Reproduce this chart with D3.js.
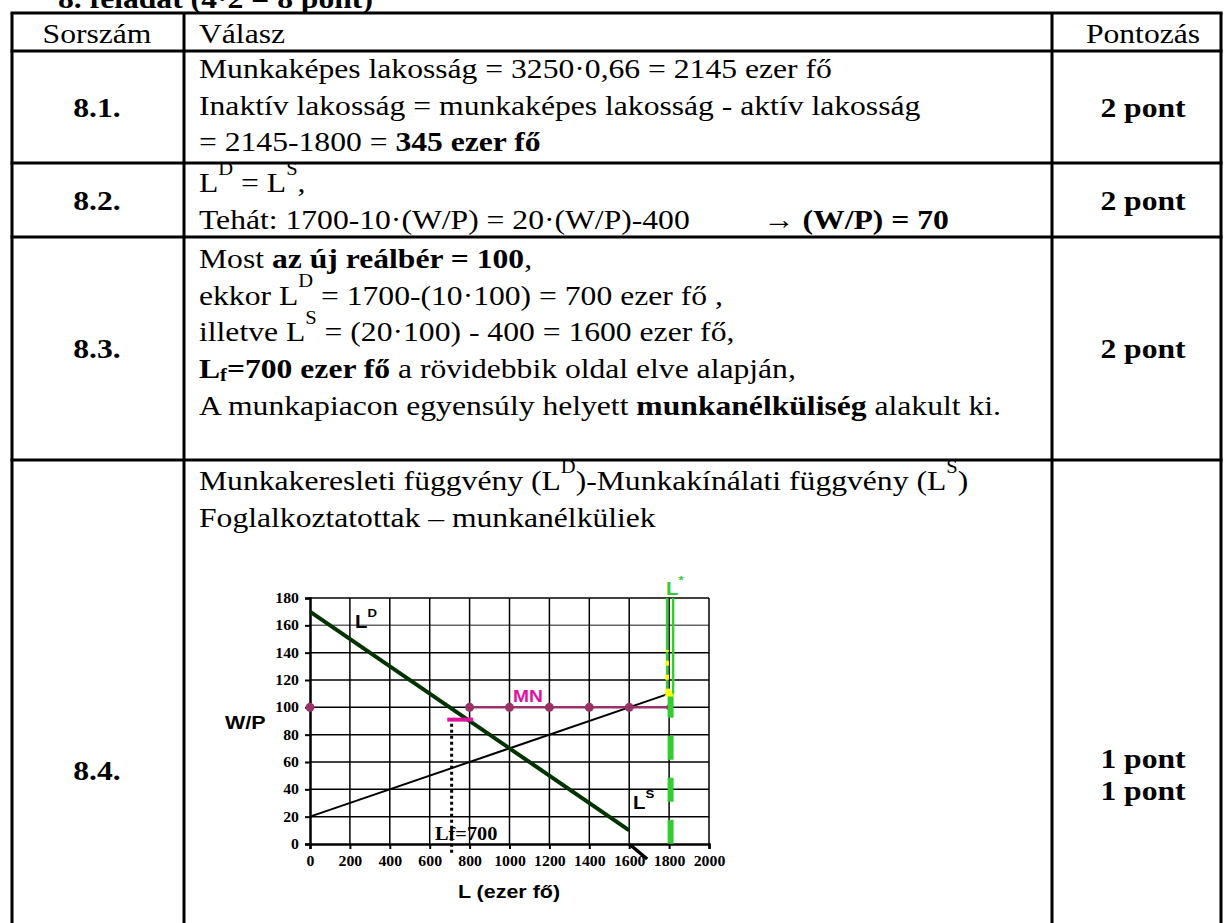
<!DOCTYPE html>
<html>
<head>
<meta charset="utf-8">
<script src="https://cdn.jsdelivr.net/npm/d3@7"></script>
<style>
  body { margin: 0; background: #fff; }
  text { white-space: pre; }
</style>
</head>
<body>
<div class="canvas"></div>
<script>
// TABLE CONTENT
const title = '8. feladat (4·2 = 8 pont)';
const headers = ['Sorszám', 'Válasz', 'Pontozás'];
const rowIds = ['8.1.', '8.2.', '8.3.', '8.4.'];
const rowPoints = [['2 pont'], ['2 pont'], ['2 pont'], ['1 pont', '1 pont']];

// ANSWER LINES (b = bold, sup / sub = raised / lowered)
const answers = [
  [
    ['Munkaképes lakosság = 3250·0,66 = 2145 ezer fő'],
    ['Inaktív lakosság = munkaképes lakosság - aktív lakosság'],
    ['= 2145-1800 = ', { t: '345 ezer fő', b: true }]
  ],
  [
    ['L', { t: 'D', sup: true }, ' = L', { t: 'S', sup: true }, ','],
    ['Tehát: 1700-10·(W/P) = 20·(W/P)-400']
  ],
  [
    ['Most ', { t: 'az új reálbér = 100', b: true }, ','],
    ['ekkor L', { t: 'D', sup: true }, ' = 1700-(10·100) = 700 ezer fő ,'],
    ['illetve L', { t: 'S', sup: true }, ' = (20·100) - 400 = 1600 ezer fő,'],
    [{ t: 'L', b: true }, { t: 'f', b: true, sub: true }, { t: '=700 ezer fő', b: true }, ' a rövidebbik oldal elve alapján,'],
    ['A munkapiacon egyensúly helyett ', { t: 'munkanélküliség', b: true }, ' alakult ki.']
  ],
  [
    ['Munkakeresleti függvény (L', { t: 'D', sup: true }, ')-Munkakínálati függvény (L', { t: 'S', sup: true }, ')'],
    ['Foglalkoztatottak – munkanélküliek']
  ]
];
const arrowPart = ['→ ', { t: '(W/P) = 70', b: true }];

// CHART DATA
const lTicks = [0, 200, 400, 600, 800, 1000, 1200, 1400, 1600, 1800, 2000];
const wpTicks = [0, 20, 40, 60, 80, 100, 120, 140, 160, 180];
const demandL = [0, 1600];
const demandWP = [170, 10];
const supplyL = [0, 1800];
const supplyWP = [20, 110];
const mnL = [0, 800, 1000, 1200, 1400, 1600, 1800];
const mnWP = [100, 100, 100, 100, 100, 100, 100];
const wageBarL = [688, 818];
const wageBarWP = [91, 91];
const lfL = [710, 710];
const lfWP = [88, -7];
const kinkL = [1600, 1690];
const kinkWP = [0, -11];
const lStar = 1800;
const lStarUpperWP = [110, 180];
const lStarLowerWP = [0, 110];
const lStarYellowWP = [110, 142];

const SX = 1.13;
const serif = 'Liberation Serif, Times New Roman, serif';
const sans = 'Liberation Sans, Arial, sans-serif';

const svg = d3
  .select('.canvas')
  .append('svg')
  .attr('width', 1224)
  .attr('height', 923);

// TEXT HELPER - HORIZONTALLY STRETCHED LIKE THE SCAN
const addText = (parent, x, y, parts, o = {}) => {
  const size = o.size || 28;
  const t = parent
    .append('text')
    .attr('transform', `translate(${x},${y}) scale(${SX},1)`)
    .attr('font-family', o.font || serif)
    .attr('font-size', size)
    .attr('text-anchor', o.anchor || 'start')
    .attr('fill', o.color || '#000')
    .attr('font-weight', o.bold ? 'bold' : 'normal');
  let shift = 0;
  parts.forEach((p) => {
    if (typeof p === 'string') p = { t: p };
    const s = t.append('tspan').text(p.t);
    let target = 0;
    if (p.b) s.attr('font-weight', 'bold');
    if (p.sup) {
      s.attr('font-size', size * 0.65);
      target = -size * 0.62;
    }
    if (p.sub) {
      s.attr('font-size', size * 0.65);
      target = size * 0.1;
    }
    if (target !== shift) s.attr('dy', target - shift);
    shift = target;
  });
  return t;
};

// TABLE GRID
const rowY = [13, 51, 163, 237, 460];
const colX = [12, 184, 1052, 1221];
const grid = svg.append('g').attr('stroke', '#000').attr('stroke-width', 3);

rowY.forEach((y) => {
  grid.append('line').attr('x1', colX[0] - 1.5).attr('x2', colX[3] + 1.5).attr('y1', y).attr('y2', y);
});
colX.forEach((x) => {
  grid.append('line').attr('x1', x).attr('x2', x).attr('y1', rowY[0]).attr('y2', 923);
});

// TITLE (CUT OFF AT TOP)
addText(svg, 58, 8, [title], { bold: true });

// HEADER
addText(svg, 97, 43, [headers[0]], { anchor: 'middle' });
addText(svg, 199, 43, [headers[1]]);
addText(svg, 1143, 43, [headers[2]], { anchor: 'middle' });

// ROWS
const firstBase = [78, 192, 268, 490];
const rowMid = [117, 210, 358, 780];
const lineGap = 36.7;

rowIds.forEach((id, i) => {
  addText(svg, 97, rowMid[i], [id], { anchor: 'middle', bold: true });
  const pts = rowPoints[i];
  pts.forEach((p, j) => {
    const y = rowMid[i] + 4 * (pts.length - 1) + (j - (pts.length - 1) / 2) * 32;
    addText(svg, 1143, y, [p], { anchor: 'middle', bold: true });
  });
  answers[i].forEach((line, j) => {
    addText(svg, 199, firstBase[i] + j * lineGap, line);
  });
});
addText(svg, 763, firstBase[1] + lineGap, arrowPart);

// CHART
const x = d3.scaleLinear().domain([0, 2000]).range([310, 709]);
const y = d3.scaleLinear().domain([0, 180]).range([844, 598]);
const chart = svg.append('g');

// GRIDLINES
chart
  .selectAll('.hgrid')
  .data(wpTicks.slice(1))
  .enter()
  .append('line')
  .attr('x1', x(0))
  .attr('x2', x(2000))
  .attr('y1', (d) => y(d))
  .attr('y2', (d) => y(d))
  .attr('stroke', (d) => (d === 160 ? '#666' : '#000'))
  .attr('stroke-width', 1.5);

chart
  .selectAll('.vgrid')
  .data(lTicks.slice(1))
  .enter()
  .append('line')
  .attr('x1', (d) => x(d))
  .attr('x2', (d) => x(d))
  .attr('y1', y(0))
  .attr('y2', y(180))
  .attr('stroke', '#000')
  .attr('stroke-width', 1.5);

// AXES
const yAxis = d3.axisLeft(y).tickValues(wpTicks).tickFormat(d3.format('d')).tickSize(5).tickPadding(6);
const xAxis = d3.axisBottom(x).tickValues(lTicks).tickFormat(d3.format('d')).tickSize(5).tickPadding(6);

const yG = chart.append('g').attr('transform', `translate(${x(0)},0)`).call(yAxis);
const xG = chart.append('g').attr('transform', `translate(0,${y(0)})`).call(xAxis);

[yG, xG].forEach((g) => {
  g.select('.domain').attr('stroke-width', 2.5).attr('stroke', '#000');
  g.selectAll('.tick line').attr('stroke-width', 2).attr('stroke', '#000');
  g.selectAll('.tick text')
    .attr('font-family', serif)
    .attr('font-weight', 'bold')
    .attr('font-size', 14)
    .attr('fill', '#000');
});
yG.selectAll('.tick text').attr('transform', `translate(-2,0) scale(${SX},1)`).attr('x', -8);
xG.selectAll('.tick text').attr('transform', `scale(${SX},1)`).attr('dy', '0.8em');

const line = d3
  .line()
  .x((d) => x(d[0]))
  .y((d) => y(d[1]));

// LABOUR SUPPLY
chart
  .append('path')
  .attr('d', line(d3.zip(supplyL, supplyWP)))
  .attr('stroke', '#000')
  .attr('stroke-width', 2)
  .attr('fill', 'none');

// MN (REAL WAGE 100)
chart
  .append('path')
  .attr('d', line(d3.zip(mnL.slice(1), mnWP.slice(1))))
  .attr('stroke', '#993366')
  .attr('stroke-width', 2.5)
  .attr('fill', 'none');

chart
  .selectAll('.mn')
  .data(d3.zip(mnL, mnWP))
  .enter()
  .append('circle')
  .attr('cx', (d) => x(d[0]))
  .attr('cy', (d) => y(d[1]))
  .attr('r', (d, i) => (i === mnL.length - 1 ? 3 : 4.5))
  .attr('fill', '#993366');

// LABOUR DEMAND
chart
  .append('path')
  .attr('d', line(d3.zip(demandL, demandWP)))
  .attr('stroke', '#003300')
  .attr('stroke-width', 4)
  .attr('fill', 'none');

chart
  .append('path')
  .attr('d', line(d3.zip(kinkL, kinkWP)))
  .attr('stroke', '#000')
  .attr('stroke-width', 3.5)
  .attr('fill', 'none');

// WAGE BAR AND Lf DOTTED
chart
  .append('path')
  .attr('d', line(d3.zip(wageBarL, wageBarWP)))
  .attr('stroke', '#e0119d')
  .attr('stroke-width', 4)
  .attr('fill', 'none');

chart
  .append('path')
  .attr('d', line(d3.zip(lfL, lfWP)))
  .attr('stroke', '#000')
  .attr('stroke-width', 3)
  .attr('stroke-dasharray', '3,3')
  .attr('fill', 'none');

// L* FULL EMPLOYMENT
[-2, 4].forEach((off) => {
  chart
    .append('line')
    .attr('x1', x(lStar) + off)
    .attr('x2', x(lStar) + off)
    .attr('y1', y(lStarUpperWP[0]))
    .attr('y2', y(lStarUpperWP[1]))
    .attr('stroke', '#33cc33')
    .attr('stroke-width', 2.5);
});

chart
  .append('line')
  .attr('x1', x(lStar) - 2)
  .attr('x2', x(lStar) - 2)
  .attr('y1', y(lStarYellowWP[0]))
  .attr('y2', y(lStarYellowWP[1]))
  .attr('stroke', '#ffff00')
  .attr('stroke-width', 3.5)
  .attr('stroke-dasharray', '5,9');

chart
  .append('line')
  .attr('x1', x(lStar) + 1.5)
  .attr('x2', x(lStar) + 1.5)
  .attr('y1', y(lStarLowerWP[1]))
  .attr('y2', y(lStarLowerWP[0]))
  .attr('stroke', '#33cc33')
  .attr('stroke-width', 6)
  .attr('stroke-dasharray', '24,18');

chart
  .append('path')
  .attr('d', d3.symbol(d3.symbolTriangle, 40)())
  .attr('transform', `translate(${x(lStar)},${y(lStarUpperWP[0])})`)
  .attr('fill', '#ffff00');

// CHART LABELS
addText(chart, 355, 628, ['L', { t: 'D', sup: true }], { font: sans, bold: true, size: 18 });
addText(chart, 633, 809, ['L', { t: 'S', sup: true }], { font: sans, bold: true, size: 18 });
addText(chart, 513, 702, ['MN'], { font: sans, bold: true, size: 17, color: '#e0119d' });
addText(chart, 666, 595, ['L', { t: '*', sup: true }], { font: sans, bold: true, size: 18, color: '#33cc33' });
addText(chart, 435, 840, ['Lf=700'], { bold: true, size: 18 });
addText(chart, 225, 729, ['W/P'], { font: sans, bold: true, size: 19 });
addText(chart, 509, 898, ['L (ezer fő)'], { font: sans, bold: true, size: 19, anchor: 'middle' });
</script>
</body>
</html>
